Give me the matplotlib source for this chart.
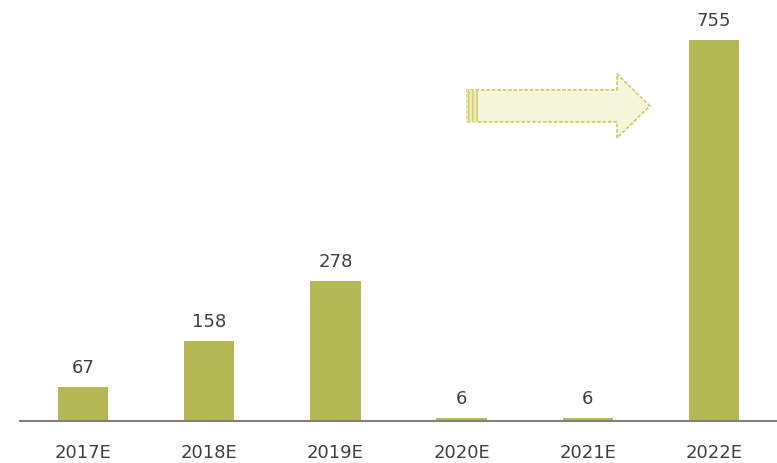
import matplotlib
matplotlib.use("Agg")
import matplotlib.pyplot as plt
from matplotlib.patches import Polygon, Rectangle

categories = ["2017E", "2018E", "2019E", "2020E", "2021E", "2022E"]
values = [67, 158, 278, 6, 6, 755]

bar_color = "#b5b954"
text_color = "#404040"

fig = plt.figure(figsize=(7.77, 4.64), dpi=100)
ax = fig.add_axes([20/777, 42/464, 757/777, 422/464])

x = list(range(len(categories)))
bars = ax.bar(x, values, width=0.4, color=bar_color, zorder=2)
for xi, v in zip(x, values):
    ax.annotate(str(v), (xi, v), xytext=(0, 8), textcoords="offset points",
                ha="center", va="bottom", fontsize=13, color=text_color)

ax.set_xlim(-0.5, 5.5)
ax.set_ylim(0, 836)
ax.set_xticks(x)
ax.set_xticklabels(categories, fontsize=13, color=text_color)
ax.tick_params(axis="x", length=0, pad=16)
ax.set_yticks([])
for s in ["top", "left", "right"]:
    ax.spines[s].set_visible(False)
ax.spines["bottom"].set_color("#808080")
ax.spines["bottom"].set_linewidth(1.5)

# decorative arrow (data coordinates)
x0, xb, xt = 3.044, 4.232, 4.493
yb0, yb1, yh0, yh1, yc = 592.6, 656, 560.8, 687.7, 624
arrow = Polygon([(x0, yb0), (xb, yb0), (xb, yh0), (xt, yc), (xb, yh1), (xb, yb1), (x0, yb1)],
                closed=True, facecolor="#f5f5d9", edgecolor="#d2cb68",
                linestyle=(0, (2, 1)), linewidth=1.3, zorder=3)
ax.add_patch(arrow)
stripe = Rectangle((x0, yb0), 0.085, yb1 - yb0, facecolor="#ecebb8", edgecolor="#d2cb68",
                   hatch="||||", linewidth=0, zorder=4)
ax.add_patch(stripe)

fig.savefig("out.png", dpi=100)
